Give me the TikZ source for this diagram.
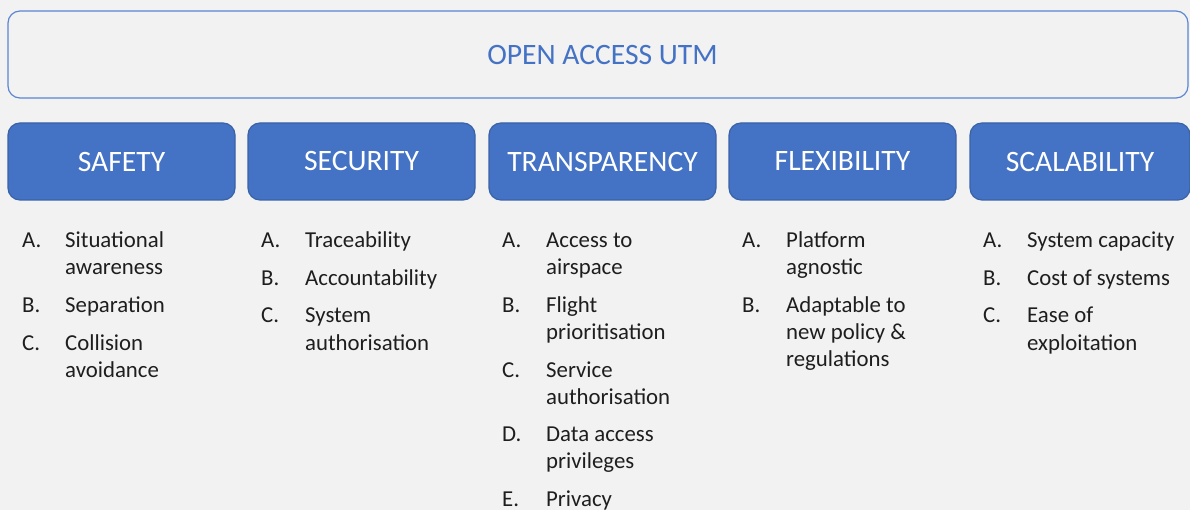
\documentclass[tikz,border=0pt]{standalone}
\usepackage{fontspec}
\setmainfont{Carlito}
\definecolor{bg}{HTML}{F2F2F2}
\definecolor{boxblue}{HTML}{4472C4}
\definecolor{boxedge}{HTML}{3A62A8}
\definecolor{titleedge}{HTML}{5B86D2}
\definecolor{txt}{HTML}{1E1E1E}
\begin{document}
\begin{tikzpicture}[x=1pt,y=-1pt,
  hdr/.style={draw=boxedge, line width=1.2pt, fill=boxblue, rounded corners=12pt,
    minimum height=77pt, text=white, font=\fontsize{29.6}{35}\selectfont, inner sep=0pt},
  frame/.style={draw=titleedge, line width=1.2pt, rounded corners=12pt,
    minimum width=1180pt, minimum height=87pt, inner sep=0pt},
  title/.style={text=boxblue, font=\fontsize{29.6}{35}\selectfont, inner sep=0pt},
  lbl/.style={anchor=base west, inner sep=0pt, text=txt, font=\fontsize{22.8}{27}\selectfont},
]
\fill[bg] (0,0) rectangle (1190,510);
\useasboundingbox (0,0) rectangle (1190,510);

% top frame and title
\node[frame] (topbox) at (598,54.5) {};
\node[title] (toptext) at (602.5,55) {OPEN ACCESS UTM};

% headers
\node[hdr, minimum width=227pt] (safety) at (121.5,161.5) {SAFETY};
\node[hdr, minimum width=227pt] (security) at (361.5,161.5) {SECURITY};
\node[hdr, minimum width=227pt] (transparency) at (602.5,161.5) {TRANSPARENCY};
\node[hdr, minimum width=227pt] (flexibility) at (842.5,161.5) {FLEXIBILITY};
\node[hdr, minimum width=220pt] (scalability) at (1080,161.5) {SCALABILITY};

% column 1: safety
\node[lbl] (s1) at (22,248) {A.};
\node[lbl] (s1a) at (65,248) {Situational};
\node[lbl] (s1b) at (65,275) {awareness};
\node[lbl] (s2) at (22,312.5) {B.};
\node[lbl] (s2a) at (65,312.5) {Separation};
\node[lbl] (s3) at (22,350) {C.};
\node[lbl] (s3a) at (65,350) {Collision};
\node[lbl] (s3b) at (65,377) {avoidance};

% column 2: security
\node[lbl] (e1) at (261,248) {A.};
\node[lbl] (e1a) at (305,248) {Traceability};
\node[lbl] (e2) at (261,285.5) {B.};
\node[lbl] (e2a) at (305,285.5) {Accountability};
\node[lbl] (e3) at (261,323) {C.};
\node[lbl] (e3a) at (305,323) {System};
\node[lbl] (e3b) at (305,350) {authorisation};

% column 3: transparency
\node[lbl] (t1) at (502,248) {A.};
\node[lbl] (t1a) at (546,248) {Access to};
\node[lbl] (t1b) at (546,275) {airspace};
\node[lbl] (t2) at (502,312.5) {B.};
\node[lbl] (t2a) at (546,312.5) {Flight};
\node[lbl] (t2b) at (546,339.5) {prioritisation};
\node[lbl] (t3) at (502,377) {C.};
\node[lbl] (t3a) at (546,377) {Service};
\node[lbl] (t3b) at (546,404) {authorisation};
\node[lbl] (t4) at (502,441.5) {D.};
\node[lbl] (t4a) at (546,441.5) {Data access};
\node[lbl] (t4b) at (546,468.5) {privileges};
\node[lbl] (t5) at (502,506) {E.};
\node[lbl] (t5a) at (546,506) {Privacy};

% column 4: flexibility
\node[lbl] (f1) at (742,248) {A.};
\node[lbl] (f1a) at (786,248) {Platform};
\node[lbl] (f1b) at (786,275) {agnostic};
\node[lbl] (f2) at (742,312.5) {B.};
\node[lbl] (f2a) at (786,312.5) {Adaptable to};
\node[lbl] (f2b) at (786,339.5) {new policy \&};
\node[lbl] (f2c) at (786,366.5) {regulations};

% column 5: scalability
\node[lbl] (c1) at (983,248) {A.};
\node[lbl] (c1a) at (1027,248) {System capacity};
\node[lbl] (c2) at (983,285.5) {B.};
\node[lbl] (c2a) at (1027,285.5) {Cost of systems};
\node[lbl] (c3) at (983,323) {C.};
\node[lbl] (c3a) at (1027,323) {Ease of};
\node[lbl] (c3b) at (1027,350) {exploitation};
\end{tikzpicture}
\end{document}
